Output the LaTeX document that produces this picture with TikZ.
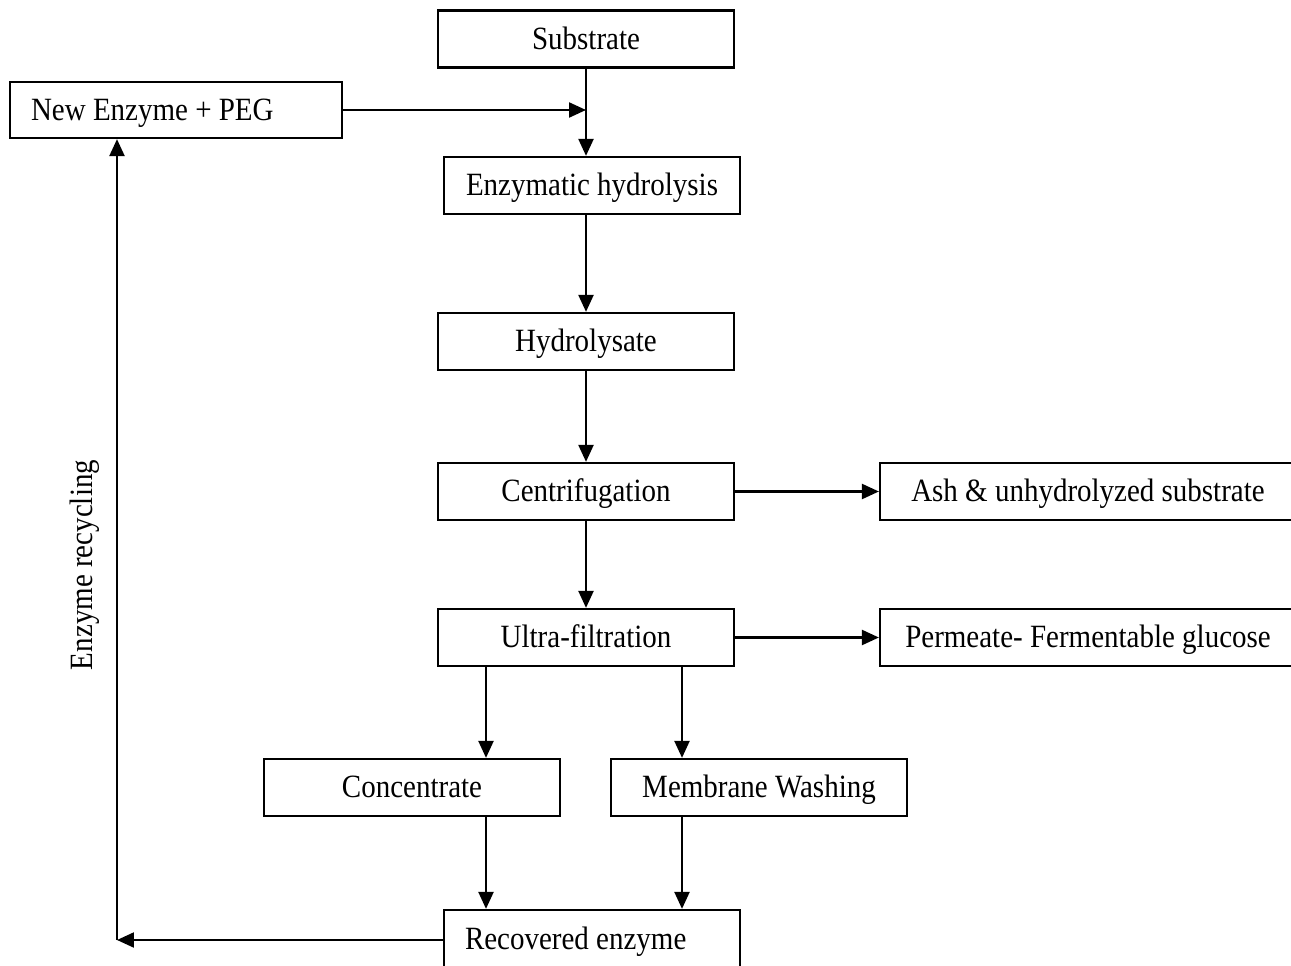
\documentclass[tikz,border=0pt]{standalone}
\usepackage{fontspec}
\usepackage{graphicx}
\setmainfont{Liberation Serif}
\usetikzlibrary{arrows.meta}
\newcommand\vstr[1]{\scalebox{1}[1.12]{#1}}
\begin{document}
\begin{tikzpicture}[x=0.02cm,y=-0.02cm,
  box/.style={draw, line width=1.3pt, minimum width=5.92cm, minimum height=1.14cm, inner sep=0pt,
    text height=14pt, text depth=2.6pt, font=\fontsize{16.5}{20}\selectfont},
  arr/.style={line width=1.3pt, -{Triangle[length=0.34cm,width=0.3cm]}},
  ln/.style={line width=1.3pt}]
\useasboundingbox (0,0) rectangle (1291,966);
\clip (0,0) rectangle (1291,966);
\node[box] (sub) at (586,39) {\vstr{Substrate}};
\node[box, minimum width=6.64cm, minimum height=1.12cm] (neg) at (176,110) {\makebox[5.8cm][l]{\vstr{New Enzyme + PEG}}};
\node[box] (eh) at (592,185.5) {\vstr{Enzymatic hydrolysis}};
\node[box] (hyd) at (586,341.5) {\vstr{Hydrolysate}};
\node[box] (cen) at (586,491.5) {\vstr{Centrifugation}};
\node[box, minimum width=8.32cm] (ash) at (1088,491.5) {\vstr{Ash \& unhydrolyzed substrate}};
\node[box] (uf) at (586,637.5) {\vstr{Ultra-filtration}};
\node[box, minimum width=8.32cm] (perm) at (1088,637.5) {\vstr{Permeate- Fermentable glucose}};
\node[box] (conc) at (412,787.5) {\vstr{Concentrate}};
\node[box] (mw) at (759,787.5) {\vstr{Membrane Washing}};
\node[box, minimum height=1.18cm] (rec) at (592,939.5) {\makebox[5.08cm][l]{\vstr{Recovered enzyme}}};
\node[rotate=90, font=\fontsize{16.5}{20}\selectfont] (lab) at (85,565) {\vstr{Enzyme recycling}};
\coordinate (join) at (586,110);
\coordinate (corner) at (117,940);
\draw[arr] (sub.south) -- (sub.south |- eh.north);
\draw[arr] (neg.east) -- (join);
\draw[arr] (eh.south -| sub.south) -- (hyd.north);
\draw[arr] (hyd.south) -- (cen.north);
\draw[arr] (cen.south) -- (uf.north);
\draw[arr] (cen.east) -- (ash.west);
\draw[arr] (uf.east) -- (perm.west);
\draw[arr] (uf.south -| 486,0) -- (conc.north -| 486,0);
\draw[arr] (uf.south -| 682,0) -- (mw.north -| 682,0);
\draw[arr] (conc.south -| 486,0) -- (rec.north -| 486,0);
\draw[arr] (mw.south -| 682,0) -- (rec.north -| 682,0);
\draw[arr] (rec.west |- corner) -- (corner);
\draw[arr] (corner) -- (corner |- neg.south);
\end{tikzpicture}
\end{document}
